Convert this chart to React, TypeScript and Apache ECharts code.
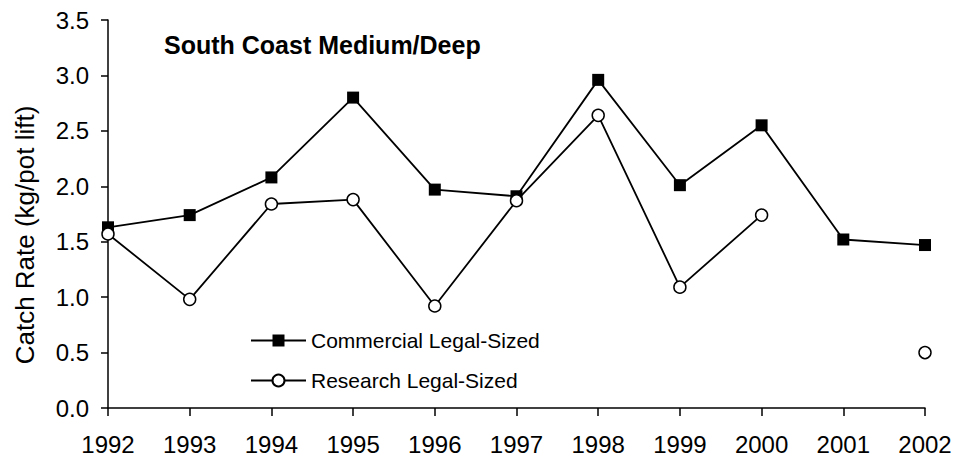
import React, { useEffect, useRef } from "react";
import * as echarts from "echarts";

const years = ["1992", "1993", "1994", "1995", "1996", "1997", "1998", "1999", "2000", "2001", "2002"];
const commercial = [1.63, 1.74, 2.08, 2.8, 1.97, 1.91, 2.96, 2.01, 2.55, 1.52, 1.47];
const research: (number | null)[] = [1.57, 0.98, 1.84, 1.88, 0.92, 1.87, 2.64, 1.09, 1.74, null, 0.5];
const titleText = "South Coast Medium/Deep";
const yName = "Catch Rate (kg/pot lift)";
const seriesNames = ["Commercial Legal-Sized", "Research Legal-Sized"];

const FONT = "Liberation Sans, Arial, sans-serif";

export default function App() {
  const ref = useRef<HTMLDivElement>(null);
  useEffect(() => {
    if (!ref.current) return;
    const chart = echarts.init(ref.current, undefined, { renderer: "svg" });
    chart.setOption({
      animation: false,
      backgroundColor: "#fff",
      title: {
        text: titleText,
        left: 159,
        top: 27,
        textStyle: { fontFamily: FONT, fontSize: 25, fontWeight: "bold", color: "#000" },
      },
      legend: {
        orient: "vertical",
        left: 245,
        top: 325,
        itemWidth: 55,
        itemHeight: 15,
        itemGap: 19,
        textStyle: { fontFamily: FONT, fontSize: 21, color: "#000" },
        data: seriesNames,
      },
      graphic: [
        {
          type: "text",
          x: 25,
          y: 235,
          rotation: Math.PI / 2,
          style: {
            text: yName,
            fontFamily: FONT,
            fontSize: 26,
            fill: "#000",
            align: "center",
            verticalAlign: "middle",
          },
        },
      ],
      grid: { left: 108, right: 32, top: 20, bottom: 51, containLabel: false },
      xAxis: {
        type: "category",
        data: years,
        boundaryGap: false,
        axisLine: { lineStyle: { color: "#000", width: 1.5 } },
        axisTick: { alignWithLabel: true, length: 8, lineStyle: { color: "#000", width: 1.5 } },
        axisLabel: { fontFamily: FONT, fontSize: 24, color: "#000", margin: 24 },
        splitLine: { show: false },
      },
      yAxis: {
        type: "value",
        min: 0,
        max: 3.5,
        interval: 0.5,
        axisLine: { show: true, lineStyle: { color: "#000", width: 1.5 } },
        axisTick: { show: true, length: 7, lineStyle: { color: "#000", width: 1.5 } },
        axisLabel: {
          fontFamily: FONT,
          fontSize: 24,
          color: "#000",
          margin: 19,
          formatter: (v: number) => v.toFixed(1),
        },
        splitLine: { show: false },
      },
      series: [
        {
          name: seriesNames[0],
          type: "line",
          data: commercial,
          symbol: "rect",
          symbolSize: 12,
          showAllSymbol: true,
          itemStyle: { color: "#000" },
          lineStyle: { color: "#000", width: 1.8 },
          z: 2,
        },
        {
          name: seriesNames[1],
          type: "line",
          data: research,
          symbol: "circle",
          symbolSize: 12,
          showAllSymbol: true,
          connectNulls: false,
          itemStyle: { color: "#fff", borderColor: "#000", borderWidth: 1.5 },
          lineStyle: { color: "#000", width: 1.8 },
          z: 3,
        },
      ],
    });
    return () => chart.dispose();
  }, []);
  return <div ref={ref} style={{ width: 957, height: 459, position: "absolute", left: 0, top: 0 }} />;
}
